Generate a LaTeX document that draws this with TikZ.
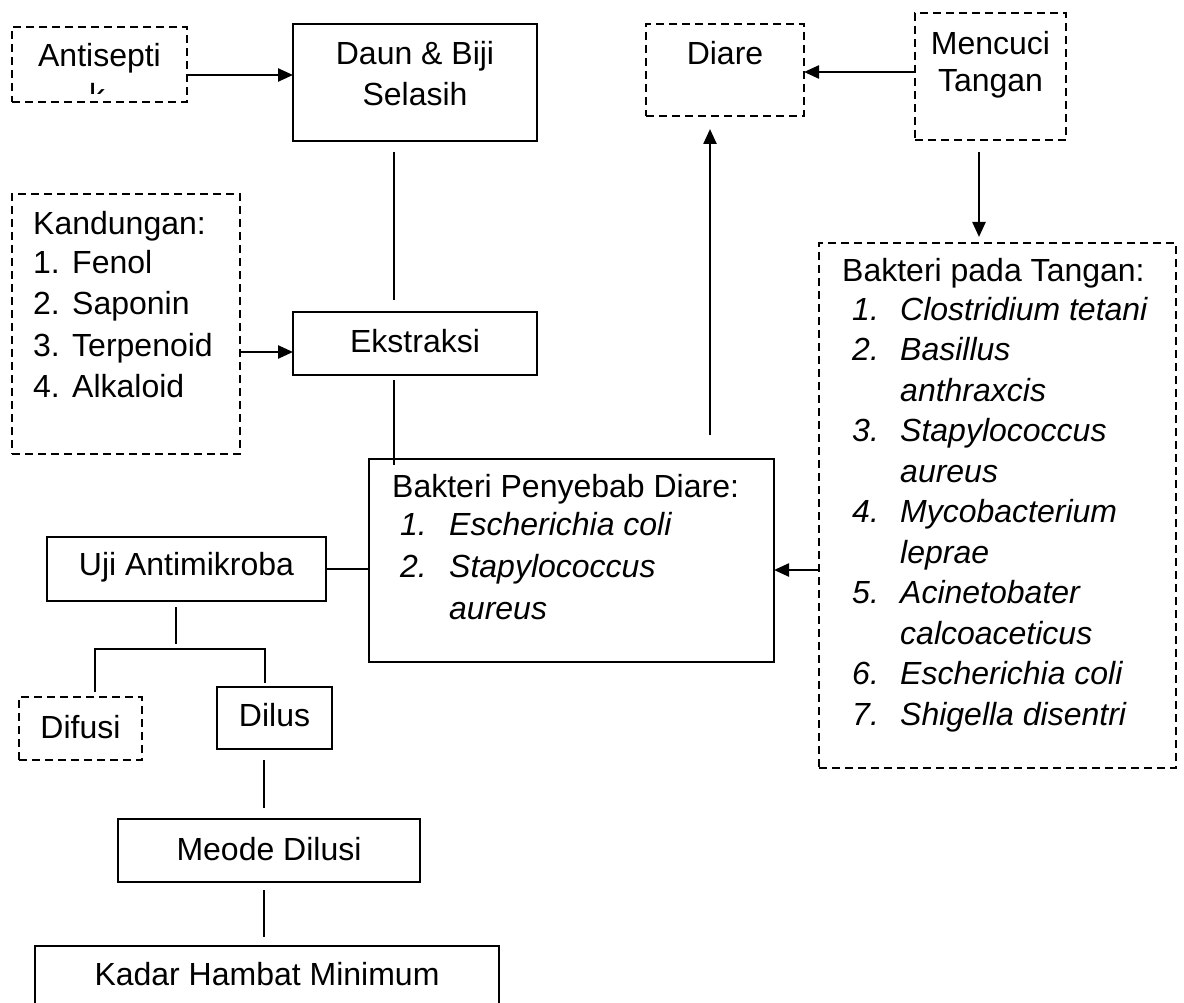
\documentclass[tikz,border=0pt]{standalone}
\usepackage{fontspec}
\setmainfont{Liberation Sans}
\usetikzlibrary{arrows.meta}
\newcommand{\mybox}[6]{\node[#1, minimum width=#5pt-#3pt, minimum height=#6pt-#4pt] (#2) at (#3,#4) {};}
\begin{document}
\begin{tikzpicture}[x=1pt,y=-1pt,
  bx/.style={draw, line width=2pt, inner sep=0pt, outer sep=0pt, anchor=north west},
  dbx/.style={bx, line width=1.8pt, dash pattern=on 8pt off 5pt},
  tx/.style={inner sep=0pt, anchor=base, font=\fontsize{32}{40}\selectfont},
  tl/.style={tx, anchor=base west},
  it/.style={tl, font=\fontsize{32}{40}\selectfont\itshape},
  ln/.style={line width=1.6pt},
  arr/.style={line width=2.4pt, -{Triangle[length=15pt,width=13pt]}}]
\useasboundingbox (0,0) rectangle (1184,1003);

% boxes
\mybox{dbx}{anti}{12}{27}{187}{102}
\mybox{bx}{daun}{293}{24}{537}{141}
\mybox{dbx}{kand}{12}{194}{240}{454}
\mybox{bx}{ekst}{293}{312}{537}{375}
\mybox{bx}{peny}{369}{459}{774}{662}
\mybox{bx}{uji}{47}{537}{326}{601}
\mybox{dbx}{difusi}{19}{697}{142}{760}
\mybox{bx}{dilus}{217}{687}{332}{749}
\mybox{bx}{meode}{118}{819}{420}{882}
\mybox{bx}{kadar}{35}{946}{499}{1020}
\mybox{dbx}{diare}{646}{24}{804}{116}
\mybox{dbx}{cuci}{915}{13}{1066}{140}
\mybox{dbx}{tangan}{819}{243}{1176}{768}

% texts
\begin{scope}
  \clip (12,27) rectangle (187,94);
  \node[tx] (antitxa) at (99.5,67) {Antisepti};
  \node[tx] (antitxb) at (97,107) {k};
\end{scope}
\node[tx] (dauntxa) at (415,65) {Daun \& Biji};
\node[tx] (dauntxb) at (415,106) {Selasih};

\node[tl] (kandh) at (33,235) {Kandungan:};
\foreach \i/\yy/\t in {1/273/Fenol, 2/315/Saponin, 3/356/Terpenoid, 4/397/Alkaloid} {
  \node[tl] (kn\i) at (33,\yy) {\i.};
  \node[tl] (kt\i) at (72,\yy) {\t};
}
\node[tx] (eksttx) at (415,352) {Ekstraksi};

\node[tl] (penyh) at (392,497) {Bakteri Penyebab Diare:};
\node[it] (pn1) at (400,535) {1.};
\node[it] (pt1) at (449,535) {Escherichia coli};
\node[it] (pn2) at (400,577) {2.};
\node[it] (pt2) at (449,577) {Stapylococcus};
\node[it] (pt2b) at (449,619) {aureus};

\node[tx] (ujitx) at (186.5,575) {Uji Antimikroba};
\node[tx] (difusitx) at (80.5,738) {Difusi};
\node[tx] (dilustx) at (274.5,726) {Dilus};
\node[tx] (meodetx) at (269,860) {Meode Dilusi};
\node[tx] (kadartx) at (267,985) {Kadar Hambat Minimum};

\node[tx] (diaretx) at (725,65) {Diare};
\node[tx] (cucitxa) at (990.5,55) {Mencuci};
\node[tx] (cucitxb) at (990.5,92) {Tangan};

\node[tl] (tanganh) at (842,282) {Bakteri pada Tangan:};
\foreach \i/\yy in {1/320, 2/360.5, 3/441.5, 4/522.5, 5/603.5, 6/684.5, 7/725} {
  \node[it] (tn\i) at (852,\yy) {\i.};
}
\node[it] (tt1) at (900,320) {Clostridium tetani};
\node[it] (tt2) at (900,360.5) {Basillus};
\node[it] (tt2b) at (900,401) {anthraxcis};
\node[it] (tt3) at (900,441.5) {Stapylococcus};
\node[it] (tt3b) at (900,482) {aureus};
\node[it] (tt4) at (900,522.5) {Mycobacterium};
\node[it] (tt4b) at (900,563) {leprae};
\node[it] (tt5) at (900,603.5) {Acinetobater};
\node[it] (tt5b) at (900,644) {calcoaceticus};
\node[it] (tt6) at (900,684.5) {Escherichia coli};
\node[it] (tt7) at (900,725) {Shigella disentri};

% helper coordinates
\coordinate (xa) at (394,0);
\coordinate (xb) at (176,0);
\coordinate (xl) at (95,0);
\coordinate (xr) at (265,0);
\coordinate (xm) at (264,0);
\coordinate (xc) at (979,0);
\coordinate (xd) at (710,0);
\coordinate (ya) at (0,75);
\coordinate (yb) at (0,352);
\coordinate (yc) at (0,569);
\coordinate (yd) at (0,72);
\coordinate (ye) at (0,570);
\coordinate (ybar) at (0,649);

% connectors
\draw[arr] (anti.east |- ya) -- (daun.west |- ya);
\draw[ln, shorten <=11pt, shorten >=12pt] (daun.south -| xa) -- (ekst.north -| xa);
\draw[arr] (kand.east |- yb) -- (ekst.west |- yb);
\draw[ln, shorten <=5pt, shorten >=-6pt] (ekst.south -| xa) -- (peny.north -| xa);
\draw[ln] (uji.east |- yc) -- (peny.west |- yc);
\draw[ln, shorten <=6pt, shorten >=5pt] (uji.south -| xb) -- (xb |- ybar);
\draw[ln, shorten <=5pt, shorten >=4pt] (difusi.north -| xl) |- (xr |- ybar) -- (dilus.north -| xr);
\draw[ln, shorten <=11pt, shorten >=11pt] (dilus.south -| xm) -- (meode.north -| xm);
\draw[ln, shorten <=8pt, shorten >=9pt] (meode.south -| xm) -- (kadar.north -| xm);
\draw[arr] (cuci.west |- yd) -- (diare.east |- yd);
\draw[arr, shorten <=12pt, shorten >=6pt] (cuci.south -| xc) -- (tangan.north -| xc);
\draw[arr, shorten <=24pt, shorten >=13pt] (peny.north -| xd) -- (diare.south -| xd);
\draw[arr] (tangan.west |- ye) -- (peny.east |- ye);
\end{tikzpicture}
\end{document}
